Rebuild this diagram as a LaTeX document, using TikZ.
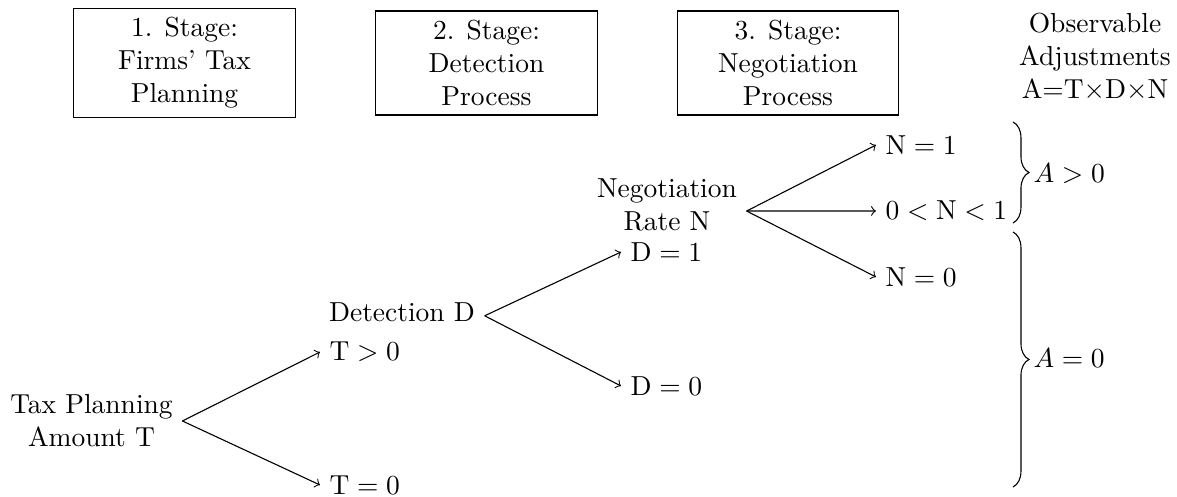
\documentclass[tikz,border=0pt]{standalone}
\usetikzlibrary{decorations.pathreplacing}
\tikzset{
  stagebox/.style={draw, align=center, minimum width=80.4pt, inner sep=3.33pt},
  plain/.style={align=center, inner sep=3.33pt},
  leaf/.style={anchor=west, inner sep=3.33pt},
  arr/.style={->, line width=0.4pt},
  brc/.style={decorate, decoration={brace, amplitude=5.8pt}, line width=0.4pt}
}
\begin{document}
\begin{tikzpicture}[x=0.3636pt, y=-0.3636pt]
  \useasboundingbox (0,0) rectangle (1177,497);

  % stage headings
  \node[stagebox] (stage1) at (184.5,63) {1. Stage:\\Firms' Tax\\Planning};
  \node[stagebox] (stage2) at (486.5,63) {2. Stage:\\Detection\\Process};
  \node[stagebox] (stage3) at (788,63)   {3. Stage:\\Negotiation\\Process};
  \node[plain]    (obs)    at (1095,57)  {Observable\\Adjustments\\A=T$\times$D$\times$N};

  % tax planning branches
  \node[plain] (tp) at (91.5,421) {Tax Planning\\Amount T};
  \node[leaf] (tpos)  at (320,352) {$\mathrm{T}>0$};
  \node[leaf] (tzero) at (320,485) {$\mathrm{T}=0$};
  \draw[arr] (tp.east) -- (tpos.west);
  \draw[arr] (tp.east) -- (tzero.west);

  % detection branches
  \node[plain] (det) at (402,312.5) {Detection D};
  \coordinate (detout) at ([yshift=-1.2pt]det.east);
  \node[leaf] (d1) at (621,252) {$\mathrm{D}=1$};
  \node[leaf] (d0) at (621,386) {$\mathrm{D}=0$};
  \draw[arr] (detout) -- (d1.west);
  \draw[arr] (detout) -- (d0.west);

  % negotiation branches
  \node[plain] (neg) at (667,205) {Negotiation\\Rate N};
  \coordinate (negout) at ([yshift=-2.2pt]neg.east);
  \node[leaf] (n1)  at (876,145) {$\mathrm{N}=1$};
  \node[leaf] (n01) at (876,211) {$0<\mathrm{N}<1$};
  \node[leaf] (n0)  at (876,277) {$\mathrm{N}=0$};
  \draw[arr] (negout) -- (n1.west);
  \draw[arr] (negout) -- (n01.west);
  \draw[arr] (negout) -- (n0.west);

  % outcome braces
  \coordinate (bupT) at (1013,122);
  \coordinate (bupB) at (1013,223);
  \coordinate (bloT) at (1013,232);
  \coordinate (bloB) at (1013,487);
  \draw[brc] (bupT) -- (bupB);
  \draw[brc] (bloT) -- (bloB);
  \node[leaf] (apos)  at (1024,174) {$A>0$};
  \node[leaf] (azero) at (1024,358) {$A=0$};
\end{tikzpicture}
\end{document}
